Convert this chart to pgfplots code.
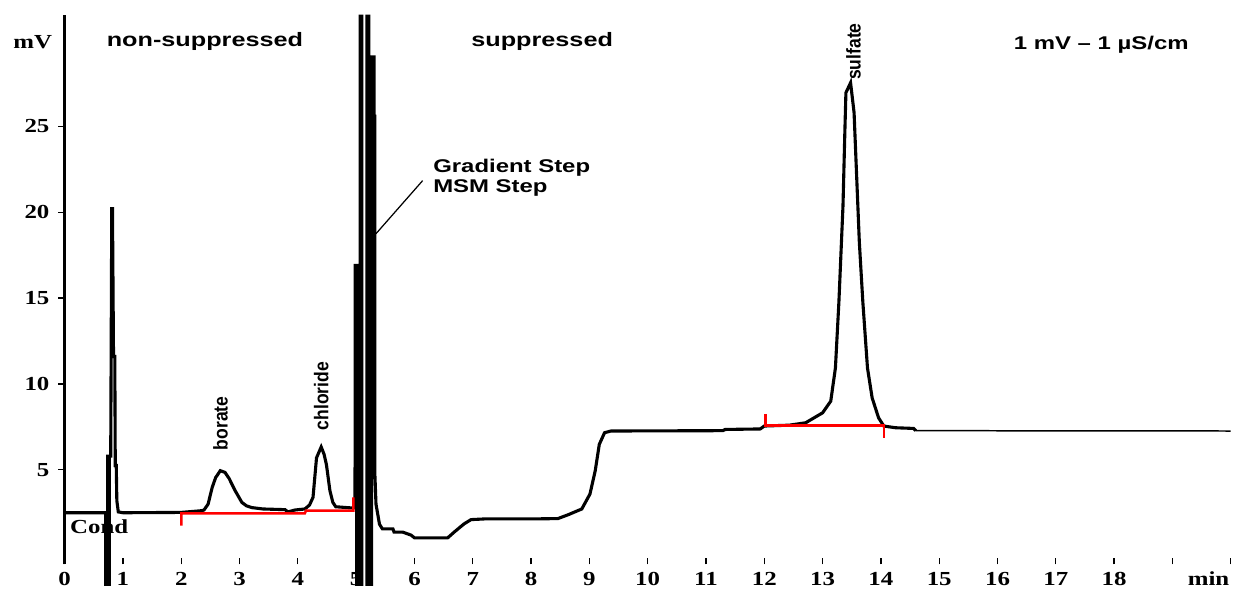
\documentclass[border=0pt]{standalone}
\usepackage{fontspec}
\setmainfont{Liberation Serif}[FakeStretch=1.25]
\newfontfamily\labsans{Liberation Sans}[FakeStretch=1.3]
\newfontfamily\peaksans{Liberation Sans}[FakeStretch=0.88]
\usepackage{pgfplots}
\pgfplotsset{compat=1.18}

\newcommand{\ticksfont}{\fontsize{8}{9.6}\selectfont\bfseries}
\newcommand{\labfont}{\labsans\fontsize{7.8}{9}\selectfont\bfseries}
\newcommand{\smlabfont}{\labsans\fontsize{7.4}{9}\selectfont\bfseries}
\newcommand{\peakfont}{\peaksans\fontsize{8}{9}\selectfont\bfseries}

% conductivity trace, min vs mV (nan = pen leaves the chart)
\pgfplotstableread{
t mV
0.000 2.50
0.705 2.50
0.705 -1.76
0.720 nan
0.740 -1.76
0.740 5.80
0.768 5.80
0.768 -1.76
0.770 nan
0.772 5.80
0.790 5.80
0.808 20.20
0.820 20.20
0.838 11.60
0.860 11.60
0.868 5.25
0.885 5.25
0.895 3.20
0.920 2.55
1.000 2.50
2.000 2.52
2.350 2.62
2.390 2.66
2.460 3.00
2.530 3.97
2.590 4.55
2.670 4.95
2.750 4.85
2.820 4.50
2.930 3.75
3.040 3.10
3.120 2.90
3.210 2.80
3.400 2.72
3.780 2.68
3.830 2.55
3.950 2.66
4.120 2.72
4.200 2.95
4.260 3.40
4.320 5.70
4.400 6.33
4.450 5.90
4.490 5.30
4.550 3.78
4.600 3.10
4.650 2.85
4.920 2.78
4.980 2.78
4.985 16.90
5.038 16.90
5.038 -1.76
5.040 nan
5.010 16.90
5.010 -1.76
5.050 nan
5.068 -1.76
5.068 31.50
5.080 nan
5.097 31.50
5.097 -1.76
5.120 nan
5.184 -1.76
5.184 31.50
5.200 nan
5.218 31.50
5.218 -1.76
5.240 nan
5.265 -1.76
5.265 29.04
5.305 29.04
5.305 25.60
5.318 25.60
5.318 5.00
5.340 3.00
5.400 1.83
5.450 1.56
5.630 1.56
5.650 1.37
5.800 1.37
5.940 1.20
6.000 1.04
6.570 1.04
6.680 1.37
6.850 1.85
6.970 2.10
7.200 2.14
8.000 2.14
8.460 2.16
8.640 2.39
8.870 2.72
9.010 3.59
9.100 4.94
9.170 6.48
9.260 7.16
9.370 7.26
11.290 7.28
11.330 7.35
11.930 7.38
12.000 7.55
12.430 7.60
12.710 7.74
13.000 8.32
13.140 9.00
13.220 10.93
13.280 14.79
13.350 20.39
13.380 24.44
13.400 26.96
13.480 27.54
13.540 25.80
13.570 23.28
13.630 18.27
13.690 14.79
13.770 10.93
13.850 9.19
13.960 8.03
14.050 7.55
14.250 7.45
14.560 7.41
14.600 7.28
}\trace

\pgfplotstableread{
t mV
14.60 7.28
20.00 7.26
}\tail

\begin{document}
\begin{tikzpicture}
\begin{axis}[
    x=23.44pt, y=6.904pt,
    xmin=0, xmax=20, ymin=-0.5, ymax=31.5,
    axis y line=left, axis x line=bottom,
    axis line style={-},
    x axis line style={draw=none},
    y axis line style={line width=1.3pt},
    xtick={0,1,...,20},
    xticklabels={0,1,2,3,4,5,6,7,8,9,10,11,12,13,14,15,16,17,18,{},{}},
    ytick={5,10,15,20,25},
    xtick align=inside, ytick align=outside,
    major tick length=2.6pt,
    every tick/.style={black, line width=0.5pt},
    tick label style={font=\ticksfont},
    xticklabel style={anchor=base, yshift=-8.4pt},
    /pgf/number format/assume math mode=true,
    extra x ticks={19.62}, extra x tick labels={min},
    extra x tick style={major tick length=0pt},
    clip=false,
    unbounded coords=jump,
]
    % keep the page the size of the reference
    \path (axis cs:-1.109,-1.76) rectangle (axis cs:20.034,32.36);

    \addplot[black, line width=1.25pt, line join=miter] table[x=t, y=mV] {\trace};
    \addplot[black, line width=0.6pt] table[x=t, y=mV] {\tail};

    %% integration baselines
    \addplot[red, line width=1pt]
        coordinates {(2.0,1.75) (2.0,2.47) (4.12,2.47) (4.14,2.62) (4.95,2.62) (4.95,3.40)};
    \addplot[red, line width=1pt]
        coordinates {(12.02,8.26) (12.02,7.58) (14.05,7.58) (14.05,6.87)};

    %% labels
    \node[font=\ticksfont] at (axis cs:-0.546,29.93) {mV};
    \node[font=\ticksfont, anchor=west, inner sep=0] at (axis cs:0.085,1.66) {Cond};
    \node[font=\labfont] at (axis cs:2.406,29.93) {non-suppressed};
    \node[font=\labfont] at (axis cs:8.19,29.93) {suppressed};
    \node[font=\smlabfont] at (axis cs:17.78,29.76) {1 mV – 1 µS/cm};
    \node[font=\smlabfont, anchor=west, inner sep=0] at (axis cs:6.314,22.57) {Gradient Step};
    \node[font=\smlabfont, anchor=west, inner sep=0] at (axis cs:6.314,21.41) {MSM Step};
    \draw[black, line width=0.5pt] (axis cs:5.34,18.75) -- (axis cs:6.14,21.84);

    \node[font=\peakfont, rotate=90, anchor=west, inner sep=0] at (axis cs:2.674,6.12) {borate};
    \node[font=\peakfont, rotate=90, anchor=west, inner sep=0] at (axis cs:4.40,7.28) {chloride};
    \node[font=\peakfont, rotate=90, anchor=west, inner sep=0] at (axis cs:13.53,27.68) {sulfate};
\end{axis}
\end{tikzpicture}
\end{document}
